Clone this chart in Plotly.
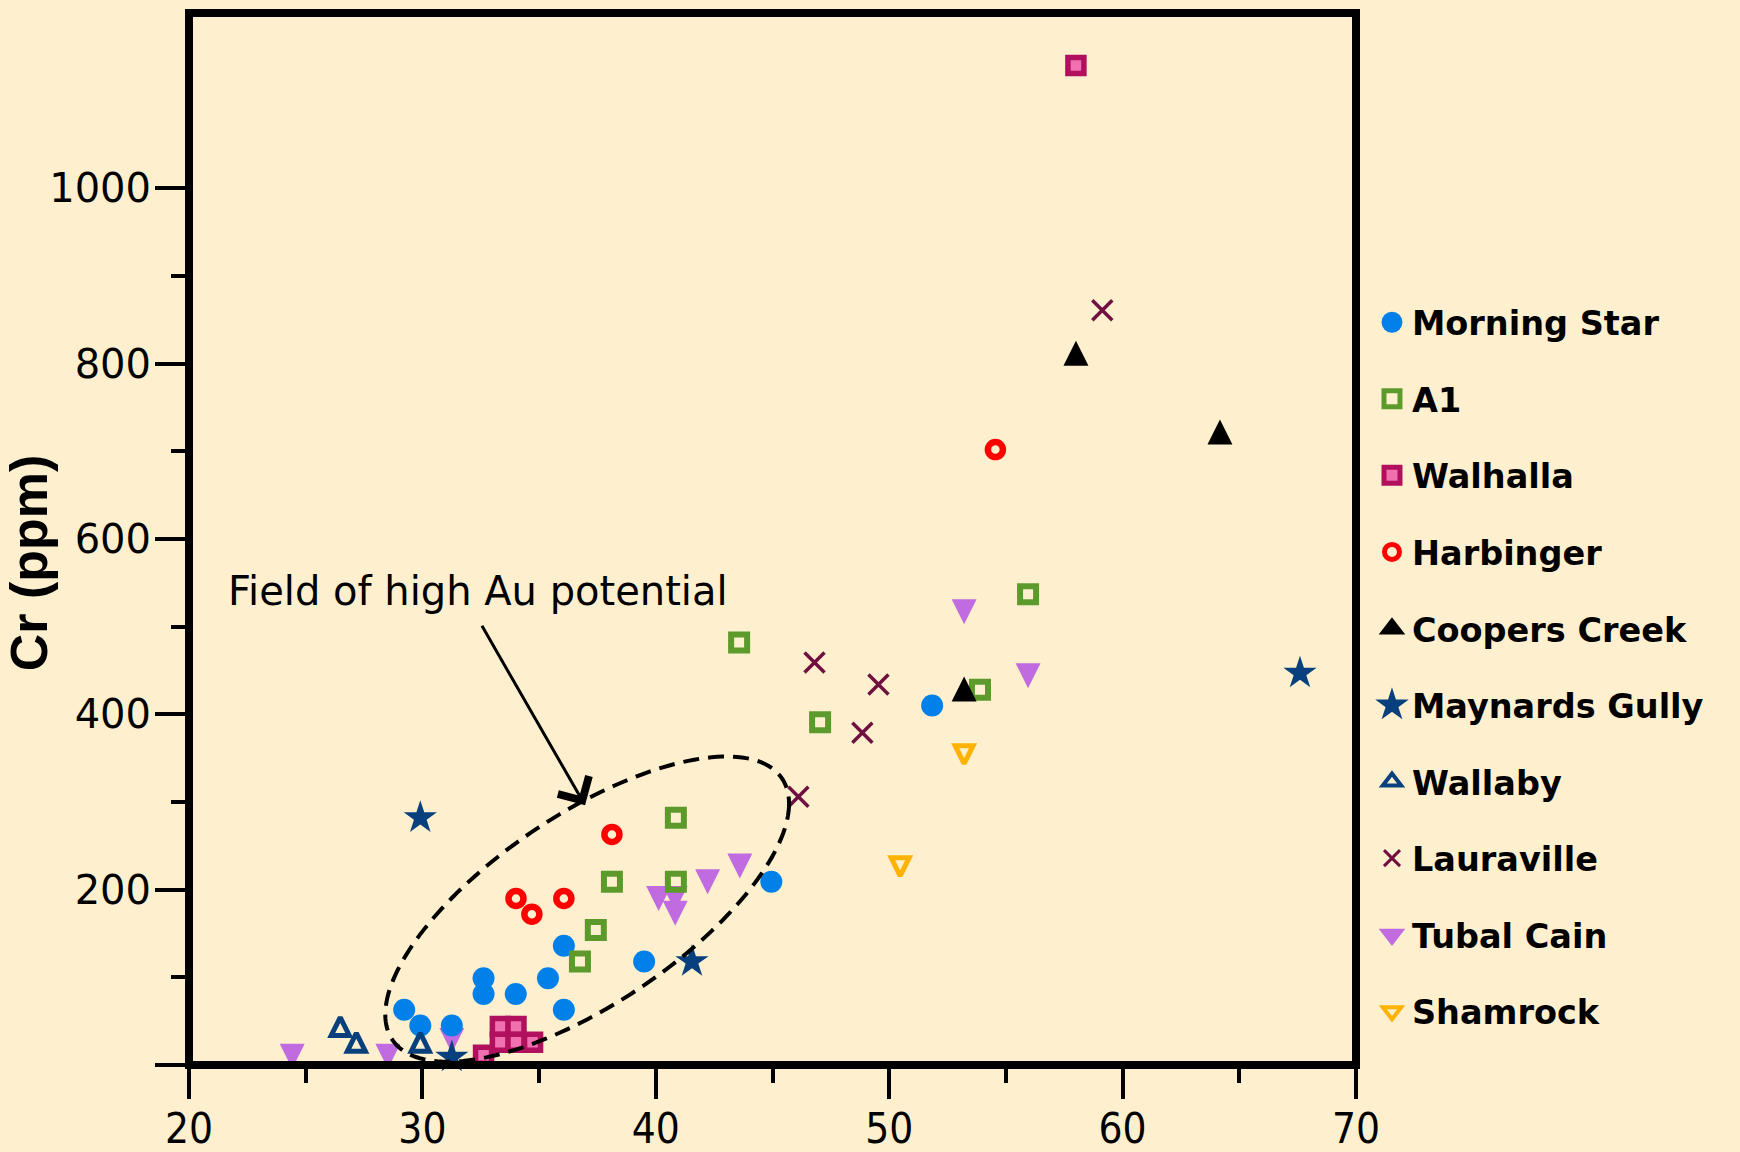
import numpy as np
import plotly.graph_objects as go

# ---------------- data ----------------
morning_x = [29.22, 29.91, 31.26, 32.62, 32.62, 34.00, 35.38, 36.06, 36.06, 39.50, 44.95, 51.84]
morning_y = [63, 45, 45, 99, 81, 81, 99, 136, 63, 118, 209, 410]

a1_x = [43.57, 47.04, 40.86, 38.12, 40.86, 37.43, 36.75, 53.89, 55.95]
a1_y = [482, 391, 282, 209, 209, 154, 118, 428, 537]

walhalla_x = [58.00, 33.34, 34.01, 33.34, 34.01, 34.72, 32.62]
walhalla_y = [1140, 44, 44, 26, 26, 26, 11]

harbinger_x = [54.55, 38.12, 34.01, 34.69, 36.06]
harbinger_y = [702, 263, 190, 172, 190]

coopers_x = [58.00, 64.17, 53.21]
coopers_y = [812, 722, 429]

maynards_x = [67.60, 29.91, 41.55, 31.26]
maynards_y = [447, 282, 118, 9]

wallaby_x = [26.48, 27.17, 29.91]
wallaby_y = [44, 26, 26]

lauraville_x = [59.13, 46.80, 49.54, 48.85, 46.11]
lauraville_y = [861, 459, 434, 379, 306]

tubal_x = [24.42, 28.52, 31.26, 40.12, 40.83, 40.83, 42.22, 43.60, 53.21, 55.95]
tubal_y = [10, 10, 28, 190, 190, 173, 209, 227, 517, 444]

shamrock_x = [53.21, 50.47]
shamrock_y = [354, 226]

x_ticks = [20, 30, 40, 50, 60, 70]
x_minor = [25, 35, 45, 55, 65]
y_ticks = [0, 200, 400, 600, 800, 1000]
y_ticktext = ["", "200", "400", "600", "800", "1000"]
y_minor = [100, 300, 500, 700, 900]

# field of high Au potential: ellipse centre and conjugate semi-axes (data units)
ell_center = (37.06, 177.8)
ell_u = (8.65, 120.3)
ell_v = (0.0, -125.8)
field_label = "Field of high Au potential"
arrow_head = (36.97, 296.2)

BG = "#FEF0CF"
NAVY = "#07407C"
C_MS, C_A1, C_WF, C_WE = "#0080E8", "#5B9A2B", "#F070B0", "#B0105E"
C_HB, C_CC, C_LV, C_TC, C_SH = "#FF0000", "#000000", "#701040", "#C06CE0", "#FFB300"

fig = go.Figure()

def add(name, x, y, **marker):
    fig.add_trace(go.Scatter(
        x=x, y=y, mode="markers", name=name, showlegend=False,
        marker=marker, cliponaxis=False, hoverinfo="x+y+name"))

# data marks (draw order bottom -> top)
add("Tubal Cain", tubal_x, tubal_y, symbol="arrow-down", angle=0, standoff=12.5,
    size=25, color=C_TC, line=dict(width=0))
add("Shamrock", shamrock_x, shamrock_y, symbol="arrow-down-open", angle=0, standoff=9,
    size=18, color=C_SH, line=dict(width=5, color=C_SH))
add("Morning Star", morning_x, morning_y, symbol="circle", size=22, color=C_MS,
    line=dict(width=0))
add("A1", a1_x, a1_y, symbol="square-open", size=16, color=C_A1,
    line=dict(width=6, color=C_A1))
add("Walhalla", walhalla_x, walhalla_y, symbol="square", size=16, color=C_WF,
    line=dict(width=5.5, color=C_WE))
add("Harbinger", harbinger_x, harbinger_y, symbol="circle-open", size=15, color=C_HB,
    line=dict(width=6.5, color=C_HB))
add("Coopers Creek", coopers_x, coopers_y, symbol="arrow-down", angle=180, standoff=12.5,
    size=25, color=C_CC, line=dict(width=0))
add("Wallaby", wallaby_x, wallaby_y, symbol="arrow-down-open", angle=180, standoff=9,
    size=18, color=NAVY, line=dict(width=5, color=NAVY))
add("Maynards Gully", maynards_x, maynards_y, symbol="star", size=25, color=NAVY,
    line=dict(width=0))
add("Lauraville", lauraville_x, lauraville_y, symbol="x-thin-open", size=20, color=C_LV,
    line=dict(width=3.5, color=C_LV))

# legend entries (symbol samples only, no data)
legend_items = [
    ("Morning Star", dict(symbol="circle", size=16, color=C_MS, line=dict(width=5, color=C_MS))),
    ("A1", dict(symbol="square-open", size=16, color=C_A1, line=dict(width=5, color=C_A1))),
    ("Walhalla", dict(symbol="square", size=16, color=C_WF, line=dict(width=5, color=C_WE))),
    ("Harbinger", dict(symbol="circle-open", size=15, color=C_HB, line=dict(width=5, color=C_HB))),
    ("Coopers Creek", dict(symbol="triangle-up", size=16, color=C_CC, line=dict(width=4, color=C_CC))),
    ("Maynards Gully", dict(symbol="star", size=16, color=NAVY, line=dict(width=4, color=NAVY))),
    ("Wallaby", dict(symbol="triangle-up-open", size=16, color=NAVY, line=dict(width=4, color=NAVY))),
    ("Lauraville", dict(symbol="x-thin-open", size=16, color=C_LV, line=dict(width=3, color=C_LV))),
    ("Tubal Cain", dict(symbol="triangle-down", size=16, color=C_TC, line=dict(width=4, color=C_TC))),
    ("Shamrock", dict(symbol="triangle-down-open", size=16, color=C_SH, line=dict(width=4, color=C_SH))),
]
for i, (name, mk) in enumerate(legend_items):
    fig.add_trace(go.Scatter(x=[None], y=[None], mode="markers", name=name,
                             legendgroup=name, legendrank=i + 1, marker=mk,
                             showlegend=True, hoverinfo="skip"))

# ellipse path in data coordinates
t = np.linspace(0, 2 * np.pi, 181)
ex = ell_center[0] + ell_u[0] * np.cos(t) + ell_v[0] * np.sin(t)
ey = ell_center[1] + ell_u[1] * np.cos(t) + ell_v[1] * np.sin(t)
path = "M " + " L ".join(f"{a:.4f},{b:.3f}" for a, b in zip(ex, ey)) + " Z"

shapes = [
    dict(type="path", path=path, xref="x", yref="y", layer="above",
         line=dict(color="black", width=4, dash="16px,9px")),
    dict(type="rect", xref="paper", yref="paper", x0=0, x1=1, y0=0, y1=1,
         layer="above", line=dict(color="black", width=8)),
]

annotations = [
    dict(x=arrow_head[0], y=arrow_head[1], xref="x", yref="y", text="",
         showarrow=True, ax=-104, ay=-181, arrowhead=4, arrowsize=2.3,
         arrowwidth=3, arrowcolor="black"),
    dict(x=21.58, y=541, xref="x", yref="y", text=field_label, showarrow=False,
         xanchor="left", yanchor="middle",
         font=dict(family="DejaVu Sans", size=40, color="black")),
    dict(x=-0.137, y=0.477, xref="paper", yref="paper", text="Cr (ppm)",
         showarrow=False, textangle=-90, xanchor="center", yanchor="middle",
         font=dict(family="Liberation Sans", size=52, color="black", weight="bold")),
]

fig.update_layout(
    width=1740, height=1152,
    margin=dict(l=189, r=384, t=13, b=87, pad=0, autoexpand=False),
    paper_bgcolor=BG, plot_bgcolor=BG,
    showlegend=True,
    legend=dict(x=1.0137, y=0.7329, xanchor="left", yanchor="top",
                traceorder="grouped", tracegroupgap=30, itemwidth=30,
                bgcolor="rgba(0,0,0,0)",
                font=dict(family="DejaVu Sans", size=33.5, color="black", weight="bold")),
    shapes=shapes,
    annotations=annotations,
    xaxis=dict(range=[20, 70], showgrid=False, zeroline=False, showline=False,
               automargin=False,
               tickmode="array", tickvals=x_ticks, ticks="outside", ticklen=33,
               tickwidth=4, tickcolor="black", ticklabelstandoff=-6,
               tickfont=dict(family="DejaVu Sans Condensed, Liberation Sans Narrow, sans-serif",
                             size=42, color="black"),
               minor=dict(tickmode="array", tickvals=x_minor, ticks="outside",
                          ticklen=17, tickwidth=4, tickcolor="black", showgrid=False)),
    yaxis=dict(range=[0, 1200], showgrid=False, zeroline=False, showline=False,
               automargin=False,
               tickmode="array", tickvals=y_ticks, ticktext=y_ticktext,
               ticks="outside", ticklen=33, tickwidth=4, tickcolor="black",
               ticklabelstandoff=-4,
               tickfont=dict(family="DejaVu Sans", size=40, color="black"),
               minor=dict(tickmode="array", tickvals=y_minor, ticks="outside",
                          ticklen=17, tickwidth=4, tickcolor="black", showgrid=False)),
)

fig.write_html("out.html",
               config={"displayModeBar": False},
               post_script="document.body.style.margin='0px';"
                           "document.body.style.overflow='hidden';")
